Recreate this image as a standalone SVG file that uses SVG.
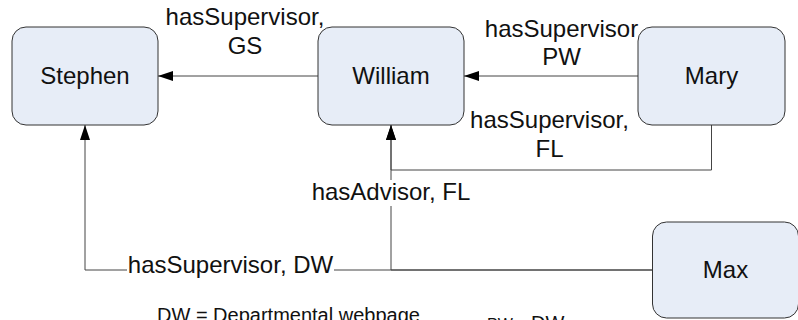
<svg xmlns="http://www.w3.org/2000/svg" width="798" height="320" viewBox="0 0 798 320">
<defs>
<style>
.node rect{fill:#e7edf7;stroke:#333333;stroke-width:1}
.node text,.lbl{font-family:"Liberation Sans",Arial,sans-serif;font-size:24px;fill:#111111}
.edge{fill:none;stroke:#444444;stroke-width:1}
.bg{fill:#ffffff}
.note{font-family:"Liberation Sans",Arial,sans-serif;fill:#111111}
</style>
<marker id="arr" viewBox="0 0 15 10" refX="15" refY="5" markerWidth="15" markerHeight="10" markerUnits="userSpaceOnUse" orient="auto">
<path d="M0,0 L15,5 L0,10 Z" fill="#000000"/>
</marker>
</defs>
<rect width="798" height="320" fill="#ffffff"/>
<g id="connectors">
<path class="edge" d="M318,76 H158" marker-end="url(#arr)"/>
<path class="edge" d="M638,76 H464" marker-end="url(#arr)"/>
<path class="edge" d="M711.5,125 V170 H391 V125" marker-end="url(#arr)"/>
<path class="edge" d="M652,270 H391 V125" marker-end="url(#arr)"/>
<path class="edge" d="M652,270 H85 V125" marker-end="url(#arr)"/>
<rect class="bg" x="310" y="180" width="162" height="26"/>
<rect class="bg" x="127" y="256" width="207" height="20"/>
<text class="lbl" x="245" y="25" text-anchor="middle">hasSupervisor,</text>
<text class="lbl" x="245" y="54" text-anchor="middle">GS</text>
<text class="lbl" x="561.5" y="37" text-anchor="middle">hasSupervisor</text>
<text class="lbl" x="561.5" y="65" text-anchor="middle">PW</text>
<text class="lbl" x="549.5" y="128" text-anchor="middle">hasSupervisor,</text>
<text class="lbl" x="549.5" y="157" text-anchor="middle">FL</text>
<text class="lbl" x="391" y="200" text-anchor="middle">hasAdvisor, FL</text>
<text class="lbl" x="230.5" y="273" text-anchor="middle">hasSupervisor, DW</text>
</g>
<g id="stephen" class="node">
<rect x="12" y="27" width="146" height="98" rx="14"/>
<text x="85" y="84" text-anchor="middle">Stephen</text>
</g>
<g id="william" class="node">
<rect x="318" y="27" width="146" height="98" rx="14"/>
<text x="391" y="84" text-anchor="middle">William</text>
</g>
<g id="mary" class="node">
<rect x="638" y="27" width="147" height="98" rx="14"/>
<text x="711.5" y="84" text-anchor="middle">Mary</text>
</g>
<g id="max" class="node">
<rect x="652.5" y="222" width="146" height="96" rx="14"/>
<text x="725.5" y="278" text-anchor="middle">Max</text>
</g>
<text class="note" x="157" y="322" font-size="20">DW = Departmental webpage</text>
<text class="note" x="487" y="330"><tspan font-size="16">PW + </tspan><tspan font-size="20">DW</tspan></text>
</svg>
